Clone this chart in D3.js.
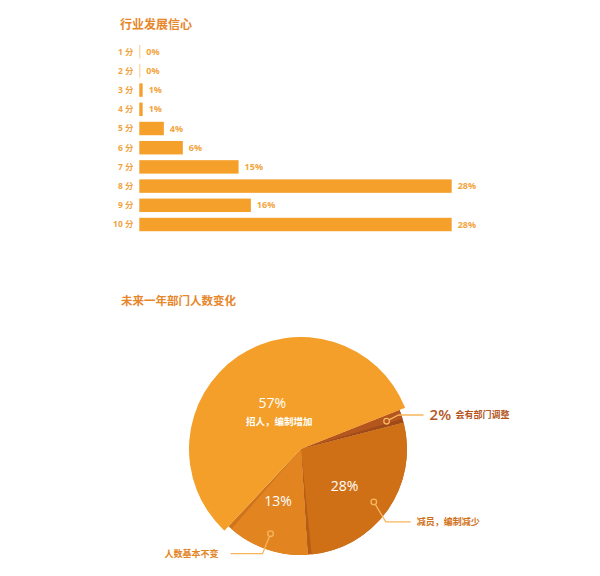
<!DOCTYPE html>
<html>
<head>
<meta charset="utf-8">
<script src="https://cdn.jsdelivr.net/npm/d3@7"></script>
<style>
  body { margin: 0; background: #fff; }
  text { font-family: "Open Sans", "Noto Sans CJK SC", sans-serif; }
</style>
</head>
<body>
<div id="chart"></div>
<script>
// bar chart: score -> share of answers
const scoreLabels = ['1 分', '2 分', '3 分', '4 分', '5 分', '6 分', '7 分', '8 分', '9 分', '10 分'];
const scoreShares = [0, 0, 1, 1, 4, 6, 15, 28, 16, 28];
// bar lengths as drawn in the picture (same % units, the original is not proportional)
const scoreBarLength = [0, 0, 0.3, 0.3, 2.2, 3.9, 8.9, 28, 10, 28];

// pie chart: headcount change next year
const pieNames = ['会有部门调整', '减员，编制减少', '人数基本不变', '招人，编制增加'];
const pieValues = [2, 28, 13, 57];

const titleColor = '#e8862a';
const barColor = '#f4a02b';
const faceColors = ['#b4561e', '#d07016', '#e2841f', '#f39f29'];
const sideColors = ['#a04a18', '#b85e14', '#cf741a', '#e08a20'];
const labelColors = ['#b4561e', '#d07016', '#e2841f', '#ffffff'];

const svg = d3.select('#chart')
  .append('svg')
  .attr('width', 600)
  .attr('height', 576);

// ---------- bars ----------
svg.append('text')
  .attr('x', 120).attr('y', 29)
  .attr('font-size', 12).attr('font-weight', 'bold')
  .attr('fill', titleColor)
  .text('行业发展信心');

const barLeft = 139.3;
const x = d3.scaleLinear().domain([0, 28]).range([0, 312.4]);
const y = d3.scaleBand()
  .domain(scoreLabels)
  .range([42.1, 234.1])
  .paddingInner(0.3)
  .paddingOuter(0.15);

const rows = svg.append('g').selectAll('g')
  .data(scoreLabels)
  .enter().append('g');

rows.append('text')
  .attr('x', 133.5)
  .attr('y', d => y(d) + y.bandwidth() / 2)
  .attr('dy', '0.35em')
  .attr('text-anchor', 'end')
  .attr('font-size', 8.5).attr('font-weight', 'bold')
  .attr('fill', '#f2a443')
  .text(d => d);

rows.append('rect')
  .attr('x', barLeft)
  .attr('y', d => y(d))
  .attr('width', (d, i) => Math.max(x(scoreBarLength[i]), 1))
  .attr('height', y.bandwidth())
  .attr('fill', barColor)
  .attr('opacity', (d, i) => scoreBarLength[i] === 0 ? 0.55 : 1);

rows.append('text')
  .attr('x', (d, i) => barLeft + Math.max(x(scoreBarLength[i]), 1) + 6)
  .attr('y', d => y(d) + y.bandwidth() / 2)
  .attr('dy', '0.35em')
  .attr('font-size', 9).attr('font-weight', 'bold')
  .attr('fill', '#f3a53e')
  .text((d, i) => scoreShares[i] + '%');

// ---------- pie ----------
svg.append('text')
  .attr('x', 121).attr('y', 305)
  .attr('font-size', 11.5).attr('font-weight', 'bold')
  .attr('fill', titleColor)
  .text('未来一年部门人数变化');

const cx = 301, cy = 449, R = 106, bigR = 112;
const start = 68.4 * Math.PI / 180;
const pie = d3.pie().sort(null).startAngle(start).endAngle(start + 2 * Math.PI);
const arcs = pie(pieValues);
const maxIdx = pieValues.indexOf(d3.max(pieValues));

const arc = d3.arc().innerRadius(0).outerRadius(R);
const bigArc = d3.arc().innerRadius(0).outerRadius(bigR);
const dotArc = d3.arc().innerRadius(90).outerRadius(90);

const g = svg.append('g').attr('transform', `translate(${cx},${cy})`);

arcs.forEach((a, i) => {
  if (i === maxIdx) {
    g.append('path').attr('d', bigArc(a)).attr('fill', faceColors[i]);
    return;
  }
  // darker side showing at the clockwise edge, then the face
  g.append('path').attr('d', arc(a)).attr('fill', sideColors[i]);
  g.append('path')
    .attr('d', arc({ startAngle: a.startAngle, endAngle: a.endAngle - 4 / R }))
    .attr('fill', faceColors[i]);
});

// values inside the slices, a little past the mid angle
const labelR = 57, labelTurn = 0.07;
arcs.forEach((a, i) => {
  if (pieValues[i] < 5) return;
  const ang = (a.startAngle + a.endAngle) / 2 + labelTurn;
  const lx = labelR * Math.sin(ang), ly = -labelR * Math.cos(ang);
  const big = i === maxIdx;
  g.append('text')
    .attr('x', lx).attr('y', big ? ly + 3 : ly)
    .attr('dy', '0.35em')
    .attr('text-anchor', 'middle')
    .attr('font-size', 14)
    .attr('fill', '#fff')
    .text(pieValues[i] + '%');
  if (big) {
    g.append('text')
      .attr('x', lx + 7).attr('y', ly + 22)
      .attr('dy', '0.35em')
      .attr('text-anchor', 'middle')
      .attr('font-size', 9.5).attr('font-weight', 'bold')
      .attr('fill', '#fff')
      .text(pieNames[i]);
  }
});

// leader lines for the smaller slices
const lineColor = '#f7b65e';
arcs.forEach((a, i) => {
  if (i === maxIdx) return;
  const mid = (a.startAngle + a.endAngle) / 2;
  const right = Math.sin(mid) > 0;
  const p0 = dotArc.centroid(a);
  const c = Math.cos(mid);
  const p1 = [p0[0] + (right ? 12 : -8), p0[1] + (c < 0 ? 20 : -20 * c)];
  const p2 = [p1[0] + (right ? 25 : -32), p1[1]];
  g.append('polyline')
    .attr('points', [p0, p1, p2].map(p => p.join(',')).join(' '))
    .attr('fill', 'none')
    .attr('stroke', lineColor)
    .attr('stroke-width', 1.3);
  g.append('circle')
    .attr('cx', p0[0]).attr('cy', p0[1]).attr('r', 2.8)
    .attr('fill', faceColors[i])
    .attr('stroke', lineColor)
    .attr('stroke-width', 1.3);

  let tx = p2[0] + (right ? 6 : -12);
  if (pieValues[i] < 5) {
    g.append('text')
      .attr('x', tx).attr('y', p2[1])
      .attr('dy', '0.35em')
      .attr('font-size', 15).attr('font-weight', 600)
      .attr('fill', labelColors[i])
      .text(pieValues[i] + '%');
    tx += 26;
  }
  g.append('text')
    .attr('x', tx).attr('y', p2[1])
    .attr('dy', '0.35em')
    .attr('text-anchor', right ? 'start' : 'end')
    .attr('font-size', 9).attr('font-weight', 'bold')
    .attr('fill', labelColors[i])
    .text(pieNames[i]);
});
</script>
</body>
</html>
